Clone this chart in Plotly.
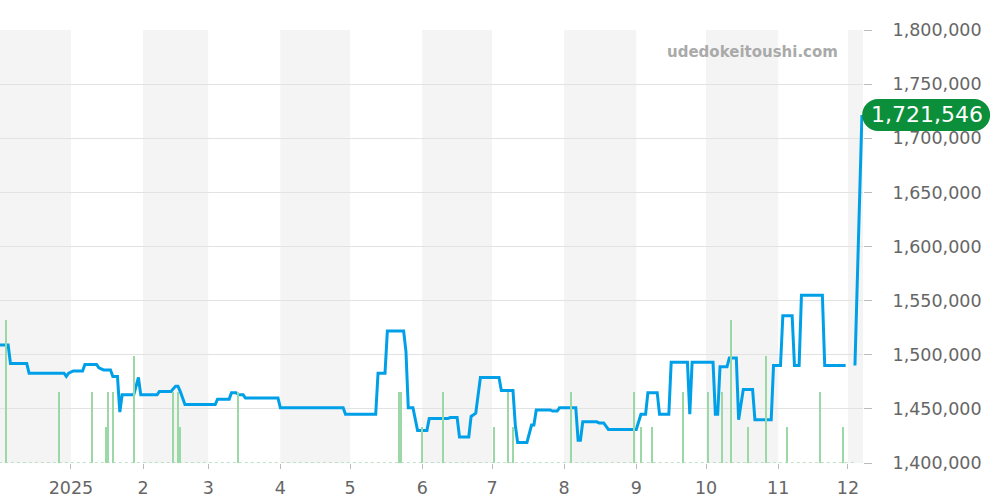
import plotly.graph_objects as go

# ---- data ----
price_dates = [
    "2024-12-01", "2024-12-05", "2024-12-06", "2024-12-13", "2024-12-14", "2024-12-29", "2024-12-30", "2024-12-31",
    "2025-01-02", "2025-01-06", "2025-01-07", "2025-01-12", "2025-01-13", "2025-01-15", "2025-01-18", "2025-01-19",
    "2025-01-21", "2025-01-22", "2025-01-23", "2025-01-28", "2025-01-30", "2025-01-31",
    "2025-02-07", "2025-02-08", "2025-02-13", "2025-02-15", "2025-02-16", "2025-02-17", "2025-02-19",
    "2025-03-04", "2025-03-05", "2025-03-10", "2025-03-11", "2025-03-13", "2025-03-14", "2025-03-16", "2025-03-17", "2025-03-31",
    "2025-04-01", "2025-04-28", "2025-04-29",
    "2025-05-12", "2025-05-13", "2025-05-16", "2025-05-17", "2025-05-24", "2025-05-25", "2025-05-26", "2025-05-28", "2025-05-30",
    "2025-06-03", "2025-06-04", "2025-06-12", "2025-06-13", "2025-06-16", "2025-06-17", "2025-06-21", "2025-06-22", "2025-06-24", "2025-06-26",
    "2025-07-04", "2025-07-05", "2025-07-10", "2025-07-11", "2025-07-12", "2025-07-16", "2025-07-18", "2025-07-19", "2025-07-20",
    "2025-07-26", "2025-07-27", "2025-07-29", "2025-07-30",
    "2025-08-06", "2025-08-07", "2025-08-08", "2025-08-09", "2025-08-15", "2025-08-16", "2025-08-18", "2025-08-20",
    "2025-09-01", "2025-09-03", "2025-09-05", "2025-09-06", "2025-09-10", "2025-09-11", "2025-09-15", "2025-09-16",
    "2025-09-23", "2025-09-24", "2025-09-25",
    "2025-10-04", "2025-10-05", "2025-10-06", "2025-10-07", "2025-10-10", "2025-10-11", "2025-10-14", "2025-10-15",
    "2025-10-17", "2025-10-21", "2025-10-22", "2025-10-29", "2025-10-30",
    "2025-11-02", "2025-11-03", "2025-11-07", "2025-11-08", "2025-11-10", "2025-11-11", "2025-11-20", "2025-11-21", "2025-11-30",
    "2025-12-02",
    "2025-12-04", "2025-12-07",
]
price_values = [
    1509000, 1509000, 1492000, 1492000, 1483000, 1483000, 1480000, 1483000,
    1485000, 1485000, 1491000, 1491000, 1488000, 1486000, 1486000, 1480000,
    1480000, 1447000, 1463000, 1463000, 1479000, 1463000,
    1463000, 1466000, 1466000, 1471000, 1471000, 1466000, 1454000,
    1454000, 1459000, 1459000, 1465000, 1465000, 1463000, 1463000, 1460000, 1460000,
    1451000, 1451000, 1445000,
    1445000, 1483000, 1483000, 1522000, 1522000, 1503000, 1451000, 1451000, 1430000,
    1430000, 1441000, 1441000, 1442000, 1442000, 1424000, 1424000, 1443000, 1446000, 1479000,
    1479000, 1467000, 1467000, 1435000, 1419000, 1419000, 1435000, 1435000, 1449000,
    1449000, 1448000, 1448000, 1451000,
    1451000, 1421000, 1421000, 1438000, 1438000, 1437000, 1437000, 1431000,
    1431000, 1445000, 1445000, 1465000, 1465000, 1445000, 1445000, 1493000,
    1493000, 1445000, 1493000,
    1493000, 1445000, 1445000, 1489000, 1489000, 1497000, 1497000, 1440000,
    1468000, 1468000, 1440000, 1440000, 1490000,
    1490000, 1536000, 1536000, 1490000, 1490000, 1555000, 1555000, 1490000, 1490000,
    None,
    1490000, 1721546,
]

sales_dates = [
    "2024-12-04", "2024-12-27", "2025-01-10", "2025-01-16", "2025-01-17", "2025-01-19", "2025-01-28",
    "2025-02-14", "2025-02-16", "2025-02-17", "2025-03-14", "2025-05-22", "2025-05-23", "2025-06-01",
    "2025-06-10", "2025-07-02", "2025-07-08", "2025-07-10", "2025-08-04", "2025-08-31", "2025-09-03",
    "2025-09-08", "2025-09-21", "2025-10-02", "2025-10-08", "2025-10-12", "2025-10-19", "2025-10-27",
    "2025-11-05", "2025-11-19", "2025-11-29",
]
sales_counts = [
    4, 2, 2, 1, 2, 2, 3,
    2, 2, 1, 2, 2, 2, 1,
    2, 1, 2, 1, 2, 2, 1,
    1, 2, 2, 2, 4, 1, 3,
    1, 2, 1,
]

tick_dates = ["2025-01-01", "2025-02-01", "2025-03-01", "2025-04-01", "2025-05-01", "2025-06-01",
              "2025-07-01", "2025-08-01", "2025-09-01", "2025-10-01", "2025-11-01", "2025-12-01"]
tick_labels = ["2025", "2", "3", "4", "5", "6", "7", "8", "9", "10", "11", "12"]

shaded_months = [
    ("2024-12-01", "2025-01-01"), ("2025-02-01", "2025-03-01"), ("2025-04-01", "2025-05-01"),
    ("2025-06-01", "2025-07-01"), ("2025-08-01", "2025-09-01"), ("2025-10-01", "2025-11-01"),
    ("2025-12-01", "2026-01-01"),
]

y_ticks = [1400000, 1450000, 1500000, 1550000, 1600000, 1650000, 1700000, 1750000, 1800000]
latest_value = 1721546
latest_label = "1,721,546"
watermark = "udedokeitoushi.com"
baseline_dates = ["2024-12-01", "2025-12-04"]
baseline_values = [0, 0]

FONT = "DejaVu Sans, Verdana, sans-serif"

fig = go.Figure()

fig.add_trace(go.Bar(
    x=sales_dates, y=sales_counts, yaxis="y2",
    marker=dict(color="#9ad8a5", line=dict(width=0)),
    width=0.6 * 86400000, hoverinfo="skip", showlegend=False,
))
fig.add_trace(go.Scatter(
    x=baseline_dates, y=baseline_values, yaxis="y2", mode="lines",
    line=dict(color="#a9dcb2", width=1.5, dash="dot"), hoverinfo="skip", showlegend=False,
))
fig.add_trace(go.Scatter(
    x=price_dates, y=price_values, mode="lines",
    line=dict(color="#00a0e9", width=3), connectgaps=False, showlegend=False,
))

shapes = []
for a, b in shaded_months:
    shapes.append(dict(type="rect", xref="x", yref="paper", x0=a, x1=b, y0=0, y1=1,
                       fillcolor="#f4f4f4", line=dict(width=0), layer="below"))

# rounded badge for the latest price
r = 16
k = 8.84
w = 128
badge_path = (f"M {r},{-r} L {w - r},{-r} C {w - r + k},{-r} {w},{-k} {w},0 "
              f"C {w},{k} {w - r + k},{r} {w - r},{r} L {r},{r} "
              f"C {r - k},{r} 0,{k} 0,0 C 0,{-k} {r - k},{-r} {r},{-r} Z")
shapes.append(dict(type="path", xref="paper", yref="y", xsizemode="pixel", ysizemode="pixel",
                   xanchor=0.999, yanchor=latest_value, path=badge_path,
                   fillcolor="#0b8f3b", line=dict(width=0), layer="above"))

fig.update_layout(
    width=1000, height=500,
    margin=dict(l=0, r=137, t=30, b=37),
    paper_bgcolor="white", plot_bgcolor="white",
    font=dict(family=FONT, color="#666666", size=17),
    showlegend=False, bargap=0,
    shapes=shapes,
    xaxis=dict(
        type="date", range=["2024-12-01 12:00", "2025-12-07 11:00"],
        tickvals=tick_dates, ticktext=tick_labels,
        showgrid=False, zeroline=False, showline=False,
        ticks="outside", ticklen=5, tickcolor="#bbbbbb",
        tickfont=dict(size=17.5, color="#666666"), ticklabelstandoff=4,
    ),
    yaxis=dict(
        side="right", range=[1400000, 1800000], tickvals=y_ticks,
        tickformat=",d", showgrid=True, gridcolor="#e2e2e2", gridwidth=1,
        zeroline=False, showline=False,
        ticks="outside", ticklen=8, tickcolor="#bbbbbb",
        tickfont=dict(size=17.5, color="#666666"), ticklabelstandoff=17,
    ),
    yaxis2=dict(overlaying="y", range=[0, 12.13], visible=False, showgrid=False),
    annotations=[
        dict(text=watermark, xref="paper", yref="paper", x=0.973, y=0.949,
             xanchor="right", yanchor="middle", showarrow=False,
             font=dict(family=FONT, size=15, color="#aaaaaa", weight="bold")),
        dict(text=latest_label, xref="paper", yref="y", x=1.0736, y=latest_value,
             xanchor="center", yanchor="middle", showarrow=False,
             font=dict(family=FONT, size=22, color="white")),
    ],
)

fig.write_html("out.html", config={"displayModeBar": False},
               post_script="document.body.style.margin='0';document.body.style.overflow='hidden';")
